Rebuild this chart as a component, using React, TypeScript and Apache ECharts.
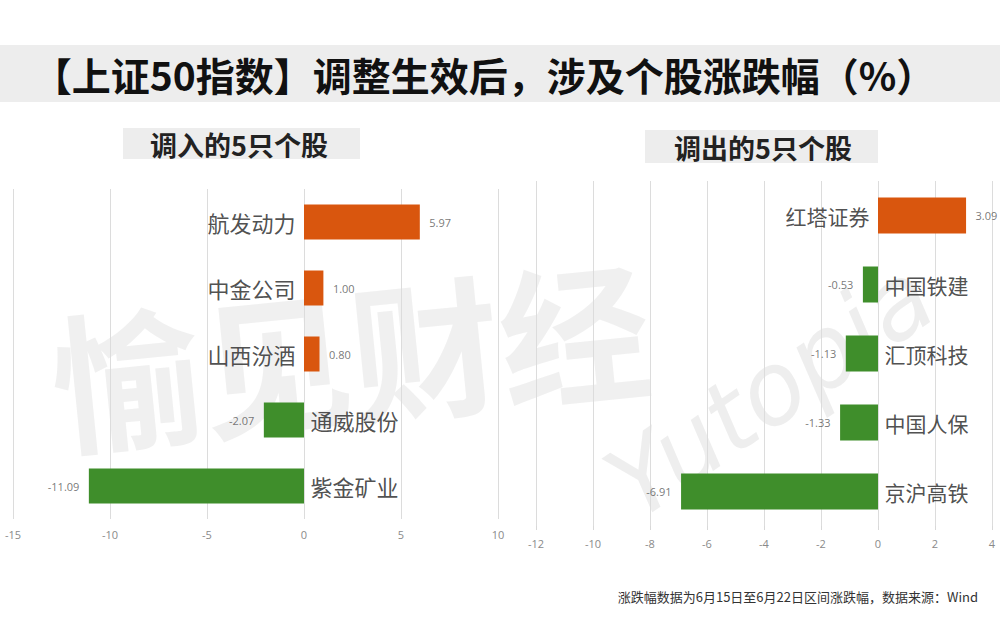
import React, { useEffect, useRef } from "react";
import * as echarts from "echarts";

const titleText = "【上证50指数】调整生效后，涉及个股涨跌幅（%）";
const leftTitle = "调入的5只个股";
const rightTitle = "调出的5只个股";
const footnote = "涨跌幅数据为6月15日至6月22日区间涨跌幅，数据来源：Wind";

const leftCats = ["航发动力", "中金公司", "山西汾酒", "通威股份", "紫金矿业"];
const leftValues = [5.97, 1.0, 0.8, -2.07, -11.09];
const rightCats = ["红塔证券", "中国铁建", "汇顶科技", "中国人保", "京沪高铁"];
const rightValues = [3.09, -0.53, -1.13, -1.33, -6.91];

const UP = "#D9560E";
const DOWN = "#3F8E2B";

function panelSeries(cats: string[], vals: number[], idx: number, barW: number, catSize: number) {
  return [
    {
      type: "bar",
      xAxisIndex: idx,
      yAxisIndex: idx,
      barWidth: barW,
      data: vals.map((v) => ({ value: v, itemStyle: { color: v >= 0 ? UP : DOWN } })),
      z: 3,
    },
    {
      type: "scatter",
      xAxisIndex: idx,
      yAxisIndex: idx,
      symbolSize: 1,
      itemStyle: { color: "transparent" },
      silent: true,
      z: 4,
      data: vals.map((v, i) => ({
        value: [0, i],
        label: {
          show: true,
          position: v >= 0 ? "left" : "right",
          distance: v >= 0 ? 8 : 6,
          formatter: cats[i],
          fontSize: catSize,
          color: "#222",
          fontFamily: "Noto Sans CJK SC",
        },
      })),
    },
    {
      type: "scatter",
      xAxisIndex: idx,
      yAxisIndex: idx,
      symbolSize: 1,
      itemStyle: { color: "transparent" },
      silent: true,
      z: 4,
      data: vals.map((v, i) => ({
        value: [v, i],
        label: {
          show: true,
          position: v >= 0 ? "right" : "left",
          distance: 9,
          formatter: v.toFixed(2),
          fontSize: 11,
          color: "#555555",
          fontFamily: "Open Sans",
        },
      })),
    },
  ];
}

export default function App() {
  const ref = useRef<HTMLDivElement>(null);
  useEffect(() => {
    document.body.style.margin = "0";
    const chart = echarts.init(ref.current!, null, { renderer: "svg" });
    const axisLabel = { color: "#8a8a8a", fontSize: 11, fontFamily: "Open Sans" };
    const option: any = {
      animation: false,
      backgroundColor: "#ffffff",
      grid: [
        { left: 13, width: 485, top: 189, height: 330 },
        { left: 536, width: 456, top: 181, height: 345 },
      ],
      xAxis: [
        {
          type: "value", gridIndex: 0, min: -15, max: 10, interval: 5,
          axisLine: { show: false }, axisTick: { show: false },
          axisLabel: { ...axisLabel, margin: 10 },
          splitLine: { lineStyle: { color: "#dcdcdc", width: 1 } },
        },
        {
          type: "value", gridIndex: 1, min: -12, max: 4, interval: 2,
          axisLine: { show: false },
          axisTick: { show: true, length: 4, lineStyle: { color: "#d8d8d8" } },
          axisLabel: { ...axisLabel, margin: 12 },
          splitLine: { lineStyle: { color: "#dcdcdc", width: 1 } },
        },
      ],
      yAxis: [
        {
          type: "category", gridIndex: 0, data: leftCats, inverse: true,
          axisLine: { show: false }, axisTick: { show: false }, axisLabel: { show: false },
        },
        {
          type: "category", gridIndex: 1, data: rightCats, inverse: true,
          axisLine: { show: false }, axisTick: { show: false }, axisLabel: { show: false },
        },
      ],
      graphic: [
        { type: "rect", z: -10, shape: { x: 0, y: 45, width: 1000, height: 57 }, style: { fill: "#ededed" } },
        {
          type: "text", z: 5, x: 484, y: 74,
          style: { text: titleText, fill: "#111", font: "bold 39px 'Noto Sans CJK SC'", align: "center", verticalAlign: "middle" },
        },
        { type: "rect", z: -10, shape: { x: 123, y: 128, width: 237, height: 31 }, style: { fill: "#ededed" } },
        {
          type: "text", z: 5, x: 239, y: 144,
          style: { text: leftTitle, fill: "#222", font: "bold 27px 'Noto Sans CJK SC'", align: "center", verticalAlign: "middle" },
        },
        { type: "rect", z: -10, shape: { x: 645, y: 130, width: 233, height: 33 }, style: { fill: "#ededed" } },
        {
          type: "text", z: 5, x: 763, y: 147,
          style: { text: rightTitle, fill: "#222", font: "bold 27px 'Noto Sans CJK SC'", align: "center", verticalAlign: "middle" },
        },
        {
          type: "text", z: -5, x: 350, y: 350, rotation: 0.1,
          style: { text: "愉见财经", fill: "rgba(200,200,200,0.28)", font: "bold 150px 'Noto Sans CJK SC'", align: "center", verticalAlign: "middle" },
        },
        {
          type: "text", z: -5, x: 770, y: 390, rotation: 0.6,
          style: { text: "Yutopia", fill: "rgba(200,200,200,0.3)", font: "italic 100px 'DejaVu Sans'", align: "center", verticalAlign: "middle" },
        },
        {
          type: "text", x: 978, y: 596,
          style: { text: footnote, fill: "#333", font: "13px 'Noto Sans CJK SC'", align: "right", verticalAlign: "middle" },
        },
      ],
      series: [
        ...panelSeries(leftCats, leftValues, 0, 35, 22),
        ...panelSeries(rightCats, rightValues, 1, 36, 21),
      ],
    };
    chart.setOption(option);
    return () => chart.dispose();
  }, []);
  return <div ref={ref} style={{ width: 1000, height: 625 }} />;
}
